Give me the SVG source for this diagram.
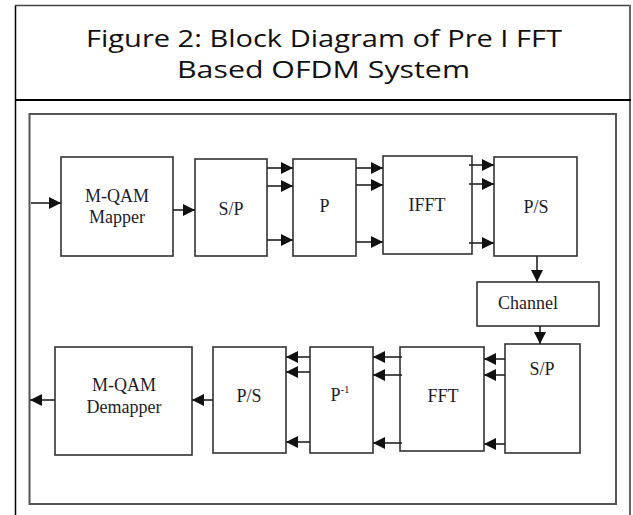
<svg xmlns="http://www.w3.org/2000/svg" width="633" height="515" viewBox="0 0 633 515">
<defs>
<marker id="ah" markerUnits="userSpaceOnUse" markerWidth="13" markerHeight="12" refX="12" refY="6" orient="auto">
<path d="M0,0 L12,6 L0,12 Z" fill="#111"/>
</marker>
<style>
.box{fill:#fff;stroke:#333;stroke-width:1.6}
.lbl{font-family:"Liberation Serif","Times New Roman",serif;font-size:18px;fill:#1c1c2a;text-anchor:middle}
.title{font-family:"Open Sans","DejaVu Sans",sans-serif;font-size:24px;fill:#111;text-anchor:middle}
.c{fill:none;stroke:#222;stroke-width:1.6;marker-end:url(#ah)}
</style>
</defs>
<rect width="633" height="515" fill="#fff"/>
<g id="frame">
<line x1="15.5" y1="5" x2="15.5" y2="515" stroke="#000" stroke-width="1.5"/>
<line x1="15" y1="5.5" x2="631" y2="5.5" stroke="#444" stroke-width="1.5"/>
<line x1="630" y1="5" x2="630" y2="515" stroke="#666" stroke-width="2"/>
<line x1="15" y1="100" x2="631" y2="100" stroke="#000" stroke-width="2"/>
<rect x="29.5" y="114" width="586.5" height="390" fill="none" stroke="#555" stroke-width="2"/>
</g>
<g id="title">
<text class="title" x="324" y="47" textLength="476" lengthAdjust="spacingAndGlyphs">Figure 2: Block Diagram of Pre I FFT</text>
<text class="title" x="323.5" y="78" textLength="293" lengthAdjust="spacingAndGlyphs">Based OFDM System</text>
</g>
<g id="mapper"><rect class="box" x="61" y="157" width="112" height="99"/><text class="lbl" x="117" y="202">M-QAM</text><text class="lbl" x="117" y="223">Mapper</text></g>
<g id="sp1"><rect class="box" x="195" y="159" width="72" height="97"/><text class="lbl" x="231" y="215">S/P</text></g>
<g id="p"><rect class="box" x="293" y="159" width="63" height="97"/><text class="lbl" x="324.5" y="212">P</text></g>
<g id="ifft"><rect class="box" x="383" y="156" width="89" height="98"/><text class="lbl" x="427" y="211">IFFT</text></g>
<g id="ps1"><rect class="box" x="494" y="157" width="83" height="99"/><text class="lbl" x="536" y="213">P/S</text></g>
<g id="channel"><rect class="box" x="477" y="282" width="122" height="44"/><text class="lbl" x="528" y="309">Channel</text></g>
<g id="sp2"><rect class="box" x="505" y="344" width="75" height="109"/><text class="lbl" x="542" y="375">S/P</text></g>
<g id="fft"><rect class="box" x="400" y="347" width="84" height="104"/><text class="lbl" x="443" y="402">FFT</text></g>
<g id="pinv"><rect class="box" x="310" y="347" width="63" height="106"/><text class="lbl" x="340" y="401">P<tspan font-size="11" dy="-8">-1</tspan></text></g>
<g id="ps2"><rect class="box" x="213" y="347" width="73" height="106"/><text class="lbl" x="249" y="402">P/S</text></g>
<g id="demapper"><rect class="box" x="55" y="347" width="137" height="108"/><text class="lbl" x="124" y="391">M-QAM</text><text class="lbl" x="124" y="413">Demapper</text></g>
<g id="connectors">
<line class="c" x1="31" y1="203" x2="61" y2="203"/>
<line class="c" x1="173" y1="210" x2="195" y2="210"/>
<line class="c" x1="267" y1="168" x2="293" y2="168"/>
<line class="c" x1="267" y1="186" x2="293" y2="186"/>
<line class="c" x1="267" y1="240" x2="293" y2="240"/>
<line class="c" x1="356" y1="168" x2="383" y2="168"/>
<line class="c" x1="356" y1="185" x2="383" y2="185"/>
<line class="c" x1="356" y1="242" x2="383" y2="242"/>
<line class="c" x1="469" y1="165" x2="494" y2="165"/>
<line class="c" x1="469" y1="184" x2="494" y2="184"/>
<line class="c" x1="469" y1="243" x2="494" y2="243"/>
<line class="c" x1="537" y1="256" x2="537" y2="282"/>
<line class="c" x1="540" y1="326" x2="540" y2="344"/>
<line class="c" x1="505" y1="359" x2="484" y2="359"/>
<line class="c" x1="505" y1="375" x2="484" y2="375"/>
<line class="c" x1="505" y1="444" x2="484" y2="444"/>
<line class="c" x1="402" y1="357" x2="373" y2="357"/>
<line class="c" x1="402" y1="375" x2="373" y2="375"/>
<line class="c" x1="402" y1="443" x2="373" y2="443"/>
<line class="c" x1="310" y1="357" x2="286" y2="357"/>
<line class="c" x1="310" y1="372" x2="286" y2="372"/>
<line class="c" x1="310" y1="442" x2="286" y2="442"/>
<line class="c" x1="213" y1="400" x2="192" y2="400"/>
<line class="c" x1="55" y1="400" x2="30" y2="400"/>
</g>
</svg>
